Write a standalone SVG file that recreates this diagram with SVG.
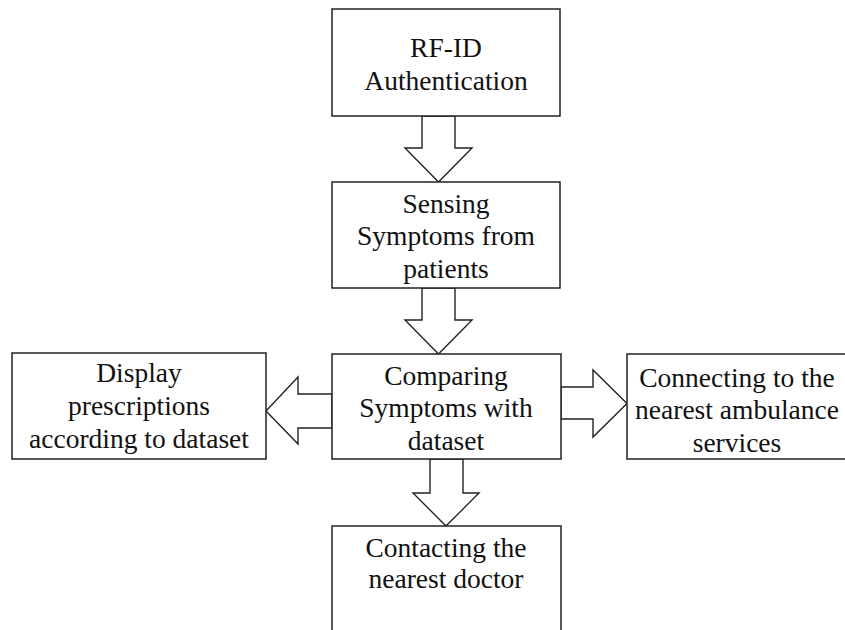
<svg xmlns="http://www.w3.org/2000/svg" width="845" height="630" viewBox="0 0 845 630">
<style>
.box{fill:#fff;stroke:#222;stroke-width:1.5}
.arr{fill:#fff;stroke:#222;stroke-width:1.4;stroke-linejoin:miter}
text{font-family:"Liberation Serif","Times New Roman",serif;font-size:27.5px;fill:#111;text-anchor:middle}
</style>
<rect width="845" height="630" fill="#fff"/>
<g id="connectors">
<polygon class="arr" points="422,116 455,116 455,148 472,148 438.5,182 405,148 422,148"/>
<polygon class="arr" points="422,288 455,288 455,320 472,320 438.5,354 405,320 422,320"/>
<polygon class="arr" points="430,459 463,459 463,493 479,493 446,526 413,493 430,493"/>
<polygon class="arr" points="332,394 298,394 298,377 266,411 298,444 298,428 332,428"/>
<polygon class="arr" points="561,387 593,387 593,370 627,403.5 593,437 593,419 561,419"/>
</g>
<g id="n1">
<rect class="box" x="332" y="9" width="228" height="107"/>
<text x="446" y="57">RF-ID</text>
<text x="446" y="90">Authentication</text>
</g>
<g id="n2">
<rect class="box" x="332" y="182" width="228" height="106"/>
<text x="446" y="213">Sensing</text>
<text x="446" y="245">Symptoms from</text>
<text x="446" y="278">patients</text>
</g>
<g id="n3">
<rect class="box" x="332" y="354" width="229" height="105"/>
<text x="446" y="385">Comparing</text>
<text x="446" y="417">Symptoms with</text>
<text x="446" y="450">dataset</text>
</g>
<g id="n4">
<rect class="box" x="12" y="353" width="254" height="106"/>
<text x="139" y="382">Display</text>
<text x="139" y="415">prescriptions</text>
<text x="139" y="448">according to dataset</text>
</g>
<g id="n5">
<rect class="box" x="627" y="354" width="240" height="105"/>
<text x="737" y="387">Connecting to the</text>
<text x="737" y="419">nearest ambulance</text>
<text x="737" y="452">services</text>
</g>
<g id="n6">
<rect class="box" x="332" y="526" width="229" height="120"/>
<text x="446" y="557">Contacting the</text>
<text x="446" y="588">nearest doctor</text>
</g>
</svg>
